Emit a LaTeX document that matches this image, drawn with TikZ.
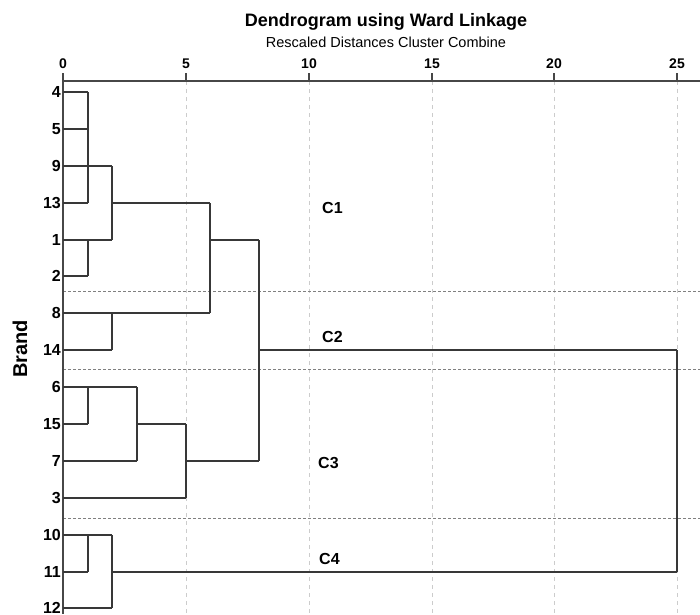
\documentclass[tikz,border=0pt]{standalone}
\usepackage{fontspec}
\setmainfont{Liberation Sans}
\usetikzlibrary{calc}
\begin{document}
\begin{tikzpicture}[x=1pt,y=-1pt,
  link/.style={draw=black!78,line width=1.2pt},
  toplink/.style={draw=black!78,line width=1.6pt},
  grid/.style={draw=black!20,line width=0.8pt,dash pattern=on 4pt off 4pt},
  sep/.style={draw=black!50,line width=1pt,dash pattern=on 3pt off 2pt},
  axis/.style={draw=black!72,line width=1.5pt},
  leaf/.style={anchor=east,inner sep=0pt,font=\fontsize{16}{16}\selectfont\bfseries},
  tick/.style={anchor=south,inner sep=0pt,font=\fontsize{14}{14}\selectfont\bfseries},
  clus/.style={anchor=west,inner sep=0pt,font=\fontsize{16}{16}\selectfont\bfseries}]
\useasboundingbox (0,0) rectangle (700,614);
% column coordinates (rescaled distance)
\coordinate (u0) at (63,81);
\coordinate (u1) at (88,81);
\coordinate (u2) at (112,81);
\coordinate (u3) at (137,81);
\coordinate (u5) at (186,81);
\coordinate (u6) at (210,81);
\coordinate (u8) at (259,81);
\coordinate (u10) at (309,81);
\coordinate (u15) at (432,81);
\coordinate (u20) at (554,81);
\coordinate (u25) at (677,81);
\coordinate (aend) at (700,81);
\coordinate (bot) at (63,614);
% grid
\foreach \c in {u5,u10,u15,u20,u25}{\draw[grid] (\c) -- (\c |- bot);}
% title
\node[font=\fontsize{18}{18}\selectfont\bfseries] (title) at (386,22) {Dendrogram using Ward Linkage};
\node[font=\fontsize{14.5}{14.5}\selectfont] (subtitle) at (386,42) {Rescaled Distances Cluster Combine};
% ticks
\foreach \c/\t in {u0/0,u5/5,u10/10,u15/15,u20/20,u25/25}{
  \draw[axis,line width=1.3pt] (\c) -- ++(0,-8);
  \node[tick] (t\t) at ($(\c)+(0,-12)$) {\t};
}
% leaves
\foreach \n/\y in {4/92,5/129,9/166,13/203,1/240,2/276,8/313,14/350,6/387,15/424,7/461,3/498,10/535,11/572,12/608}{
  \coordinate (l\n) at (63,\y);
  \node[leaf] (lab\n) at (61,\y) {\n};
}
% separators
\foreach \y in {291,369,518}{
  \coordinate (s\y) at (63,\y);
  \draw[sep] (s\y) -- (s\y -| aend);
}
% axes
\draw[axis] (u0) -- (aend);
\draw[axis] (u0) -- (bot);
% cluster C1
\draw[link] (l4) -- (l4 -| u1);
\draw[link] (l5) -- (l5 -| u1);
\draw[link] (l13) -- (l13 -| u1);
\draw[link] (l4 -| u1) -- (l13 -| u1);
\draw[link] (l9) -- (l9 -| u2);
\draw[link] (l1) -- (l1 -| u2);
\draw[link] (l2) -- (l2 -| u1);
\draw[link] (l1 -| u1) -- (l2 -| u1);
\draw[link] (l9 -| u2) -- (l1 -| u2);
\draw[link] (l13 -| u2) -- (l13 -| u6);
\draw[link] (l8) -- (l8 -| u6);
\draw[link] (l14) -- (l14 -| u2);
\draw[link] (l8 -| u2) -- (l14 -| u2);
\draw[link] (l13 -| u6) -- (l8 -| u6);
\draw[link] (l1 -| u6) -- (l1 -| u8);
% cluster C3
\draw[link] (l6) -- (l6 -| u3);
\draw[link] (l15) -- (l15 -| u1);
\draw[link] (l6 -| u1) -- (l15 -| u1);
\draw[link] (l7) -- (l7 -| u3);
\draw[link] (l6 -| u3) -- (l7 -| u3);
\draw[link] (l15 -| u3) -- (l15 -| u5);
\draw[link] (l3) -- (l3 -| u5);
\draw[link] (l15 -| u5) -- (l3 -| u5);
\draw[toplink] (l7 -| u5) -- (l7 -| u8);
\draw[toplink] (l1 -| u8) -- (l7 -| u8);
\draw[toplink] (l14 -| u8) -- (l14 -| u25);
% cluster C4
\draw[link] (l10) -- (l10 -| u2);
\draw[link] (l11) -- (l11 -| u1);
\draw[link] (l10 -| u1) -- (l11 -| u1);
\draw[link] (l12) -- (l12 -| u2);
\draw[link] (l10 -| u2) -- (l12 -| u2);
\draw[toplink] (l11 -| u2) -- (l11 -| u25);
\draw[toplink] (l14 -| u25) -- (l11 -| u25);
% labels
\node[clus] (c1) at (322,208) {C1};
\node[clus] (c2) at (322,337) {C2};
\node[clus] (c3) at (318,463) {C3};
\node[clus] (c4) at (319,559) {C4};
\node[rotate=90,font=\fontsize{20}{20}\selectfont\bfseries] (brand) at (20,349) {Brand};
\end{tikzpicture}
\end{document}
